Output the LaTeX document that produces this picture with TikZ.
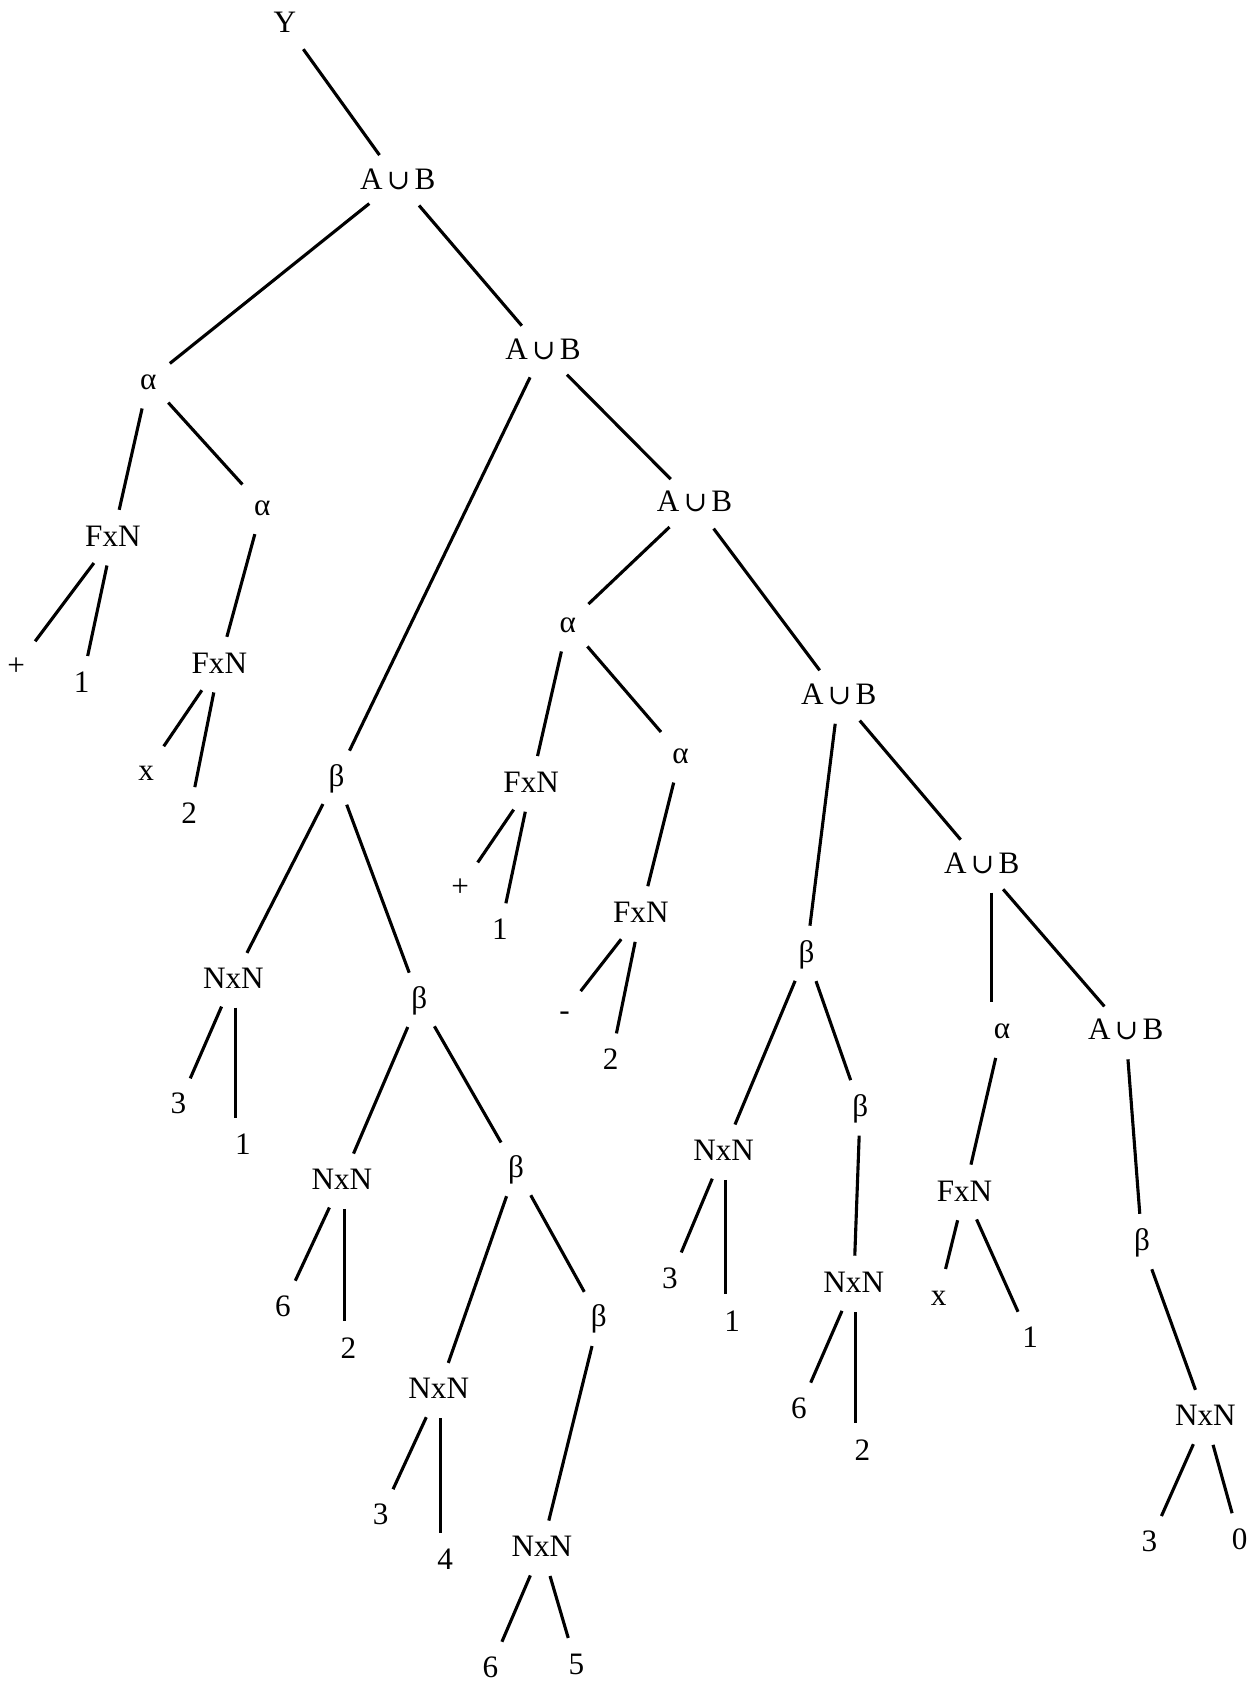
\documentclass[tikz,border=0pt]{standalone}
\usepackage{fontspec}
\setmainfont{Liberation Serif}
\newfontfamily\cupfont{DejaVu Serif}
\begin{document}
\begin{tikzpicture}[x=1pt,y=-1pt,
  lbl/.style={font=\fontsize{29}{34}\selectfont, inner sep=2pt, text height=19pt, text depth=3pt},
  edge/.style={line width=2.9pt, shorten <=13pt, shorten >=13pt}]
\useasboundingbox (0,0) rectangle (1171,1568);
\newcommand{\AB}{A\kern4pt{\cupfont\fontsize{26}{30}\selectfont ∪}\kern4pt B}
% nodes
\node[lbl] (Y)  at (265,22) {Y};
\node[lbl] (u1) at (370,168) {\AB};
\node[lbl] (a1) at (138,354) {α};
\node[lbl] (u2) at (505,326) {\AB};
\node[lbl] (f1) at (105,500) {FxN};
\node[lbl] (a2) at (244,471) {α};
\node[lbl] (p1) at (15,620) {+};
\node[lbl] (o1) at (76,636) {1};
\node[lbl] (f2) at (204,618) {FxN};
\node[lbl] (x1) at (136,718) {x};
\node[lbl] (t1) at (176,758) {2};
\node[lbl] (u3) at (646,468) {\AB};
\node[lbl] (b1) at (313,723) {β};
\node[lbl] (a3) at (528,580) {α};
\node[lbl] (f3) at (494,729) {FxN};
\node[lbl] (a4) at (633,702) {α};
\node[lbl] (p2) at (428,826) {+};
\node[lbl] (o2) at (465,866) {1};
\node[lbl] (f4) at (596,850) {FxN};
\node[lbl] (m1) at (525,941) {-};
\node[lbl] (t2) at (568,987) {2};
\node[lbl] (u4) at (780,647) {\AB};
\node[lbl] (u5) at (913,804) {\AB};
\node[lbl] (n1) at (217,911) {NxN};
\node[lbl] (n1a) at (166,1028) {3};
\node[lbl] (n1b) at (226,1066) {1};
\node[lbl] (b2) at (390,930) {β};
\node[lbl] (n2) at (318,1098) {NxN};
\node[lbl] (n2a) at (263,1216) {6};
\node[lbl] (n2b) at (324,1255) {2};
\node[lbl] (b3) at (480,1087) {β};
\node[lbl] (n3) at (408,1293) {NxN};
\node[lbl] (n3a) at (354,1410) {3};
\node[lbl] (n3b) at (414,1452) {4};
\node[lbl] (b4) at (557,1226) {β};
\node[lbl] (n4) at (504,1440) {NxN};
\node[lbl] (n4a) at (456,1552) {6};
\node[lbl] (n4b) at (536,1549) {5};
\node[lbl] (b5) at (750,887) {β};
\node[lbl] (n5) at (673,1071) {NxN};
\node[lbl] (n5a) at (623,1190) {3};
\node[lbl] (n5b) at (681,1230) {1};
\node[lbl] (b6) at (800,1030) {β};
\node[lbl] (n6) at (794,1194) {NxN};
\node[lbl] (n6a) at (743,1311) {6};
\node[lbl] (n6b) at (802,1350) {2};
\node[lbl] (a5) at (932,958) {α};
\node[lbl] (u6) at (1047,959) {\AB};
\node[lbl] (f5) at (897,1109) {FxN};
\node[lbl] (x2) at (873,1206) {x};
\node[lbl] (o3) at (958,1245) {1};
\node[lbl] (b7) at (1062,1155) {β};
\node[lbl] (n7) at (1121,1318) {NxN};
\node[lbl] (n7a) at (1069,1435) {3};
\node[lbl] (n7b) at (1153,1433) {0};
% slanted edges
\foreach \p/\c in {Y/u1,u1/a1,u1/u2,a1/f1,a1/a2,f1/p1,f1/o1,a2/f2,f2/x1,f2/t1,
  u2/b1,u2/u3,u3/a3,u3/u4,a3/f3,a3/a4,f3/p2,f3/o2,a4/f4,f4/m1,f4/t2,
  u4/b5,u4/u5,b1/n1,b1/b2,n1/n1a,b2/n2,b2/b3,n2/n2a,
  b3/n3,b3/b4,n3/n3a,b4/n4,n4/n4a,n4/n4b,b5/n5,b5/b6,n5/n5a,
  b6/n6,n6/n6a,u5/u6,a5/f5,f5/x2,f5/o3,u6/b7,b7/n7,n7/n7a,n7/n7b}
  \draw[edge] (\p) -- (\c);
% vertical edges
\foreach \p/\c in {n1/n1b,n2/n2b,n3/n3b,n5/n5b,n6/n6b}
  \draw[edge] ([xshift=2pt]\p.south) -- ([xshift=2pt]\p.south |- \c.north);
\draw[edge] ([xshift=9pt]u5.south) -- ([xshift=9pt]u5.south |- a5.north);
\end{tikzpicture}
\end{document}
